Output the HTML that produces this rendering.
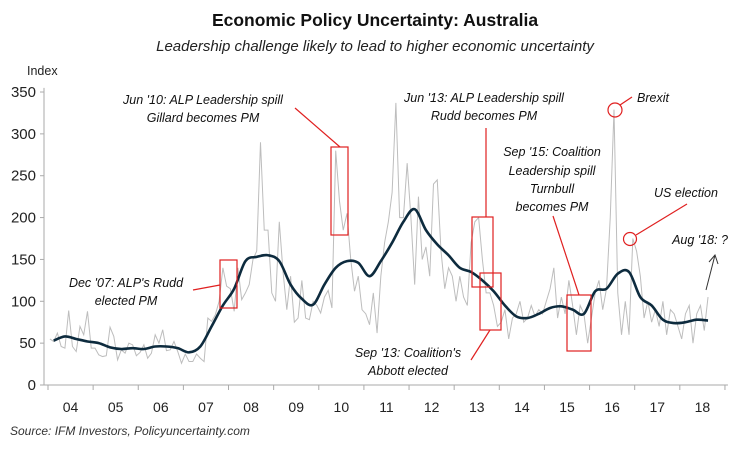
<!DOCTYPE html>
<html><head><meta charset="utf-8"><style>
body{margin:0;background:#fff;font-family:"Liberation Sans",sans-serif}
svg text{font-family:"Liberation Sans",sans-serif}
.ann{font-style:italic;font-size:12.5px;fill:#111}
</style></head><body>
<svg id="c" width="750" height="450" viewBox="0 0 750 450">
<text x="375" y="26" text-anchor="middle" font-size="17.5" font-weight="bold" fill="#111">Economic Policy Uncertainty: Australia</text>
<text x="375" y="51" text-anchor="middle" font-size="15" font-style="italic" fill="#222">Leadership challenge likely to lead to higher economic uncertainty</text>
<text x="27" y="75" font-size="12.5" fill="#222">Index</text>
<g id="axes"></g>
<g id="series"></g>
<g fill="none" stroke="#e02020" stroke-width="1.2">
<rect x="220" y="260" width="17" height="48"/>
<rect x="331" y="147" width="17" height="88"/>
<rect x="472" y="217" width="21" height="70"/>
<rect x="480" y="273" width="21" height="57"/>
<rect x="567" y="295" width="24" height="56"/>
<circle cx="615" cy="110" r="7"/>
<circle cx="630" cy="239" r="6.5"/>
<line x1="193" y1="290" x2="220" y2="285"/>
<line x1="295" y1="108" x2="340" y2="147"/>
<line x1="486" y1="128" x2="486" y2="217"/>
<line x1="471" y1="360" x2="490" y2="330"/>
<line x1="553" y1="216" x2="579" y2="295"/>
<line x1="620" y1="105" x2="632" y2="97"/>
<line x1="636" y1="235" x2="687" y2="204"/>
</g>
<g stroke="#333" stroke-width="1" fill="none">
<line x1="706" y1="290" x2="715" y2="255"/><polyline points="709,262 715,255 718,264"/>
</g>
<g class="ann">
<text class="ann" x="126" y="287" text-anchor="middle">Dec '07: ALP's Rudd</text>
<text class="ann" x="126" y="305" text-anchor="middle">elected PM</text>
<text class="ann" x="203" y="104" text-anchor="middle">Jun '10: ALP Leadership spill</text>
<text class="ann" x="203" y="122" text-anchor="middle">Gillard becomes PM</text>
<text class="ann" x="484" y="102" text-anchor="middle">Jun '13: ALP Leadership spill</text>
<text class="ann" x="484" y="120" text-anchor="middle">Rudd becomes PM</text>
<text class="ann" x="552" y="156" text-anchor="middle">Sep '15: Coalition</text>
<text class="ann" x="552" y="175" text-anchor="middle">Leadership spill</text>
<text class="ann" x="552" y="193" text-anchor="middle">Turnbull</text>
<text class="ann" x="552" y="211" text-anchor="middle">becomes PM</text>
<text class="ann" x="408" y="357" text-anchor="middle">Sep '13: Coalition's</text>
<text class="ann" x="408" y="375" text-anchor="middle">Abbott elected</text>
<text class="ann" x="637" y="102">Brexit</text>
<text class="ann" x="686" y="197" text-anchor="middle">US election</text>
<text class="ann" x="728" y="244" text-anchor="end">Aug '18: ?</text>
</g>
<text x="10" y="435" font-size="12" font-style="italic" fill="#333">Source: IFM Investors, Policyuncertainty.com</text>
</svg>
<script>
const years=["04","05","06","07","08","09","10","11","12","13","14","15","16","17","18"];
const yTicks=[0,50,100,150,200,250,300,350];
const rawIndex=[
55,52,62,46,44,89,46,40,70,60,88,44,
44,36,34,35,69,58,30,42,38,50,48,35,
39,48,32,38,60,50,66,41,42,52,40,26,
37,28,28,37,32,28,80,76,84,100,140,118,
115,88,140,102,110,120,150,160,290,185,185,110,
100,195,135,90,130,75,80,125,80,78,100,95,
86,105,113,92,280,220,185,205,150,112,130,90,
85,72,110,62,130,170,195,230,337,200,200,265,
200,120,225,150,165,130,240,245,160,115,140,130,
100,130,105,95,170,195,200,150,110,110,95,70,
75,90,55,80,85,100,75,80,95,82,90,85,
100,115,140,80,105,85,125,95,60,95,85,50,
80,110,125,90,115,200,329,110,60,100,60,175,
160,130,80,100,75,90,70,100,60,90,85,70,
55,85,95,50,85,95,65,105];
const smoothIndex=[
53,58,55,52, 50,45,43,44, 43,46,46,44, 39,46,70,95,
115,148,153,155, 148,120,103,96, 120,140,148,146, 130,148,170,195,
210,185,168,155, 140,135,125,112, 95,82,80,85, 92,94,90,85,
112,115,133,135, 105,95,78,74, 75,78,77];
const NS="http://www.w3.org/2000/svg";
const x0=48,yrW=45.13,yBase=385,ySc=0.8371;
const X=t=>x0+t*yrW;
const Y=v=>yBase-v*ySc;
function mk(tag,attrs,parent){const e=document.createElementNS(NS,tag);for(const k in attrs)e.setAttribute(k,attrs[k]);parent.appendChild(e);return e;}
const axes=document.getElementById('axes'),ser=document.getElementById('series');
const ya=mk('line',{x1:44,y1:Y(355),x2:44,y2:yBase,stroke:'#aaa'},axes);


const xa=mk('line',{x1:44,y1:yBase,x2:X(15)+3,y2:yBase,stroke:'#aaa'},axes);


yTicks.forEach(v=>{
 mk('line',{x1:40,y1:Y(v),x2:44,y2:Y(v),stroke:'#aaa'},axes);
 const t=mk('text',{x:36,y:Y(v)+5,'text-anchor':'end','font-size':15,fill:'#222'},axes);
 t.textContent=v;
 
 
});
for(let i=0;i<=years.length;i++){
 mk('line',{x1:X(i),y1:yBase,x2:X(i),y2:yBase+5,stroke:'#aaa'},axes);
 if(i<years.length){
  const t=mk('text',{x:X(i+0.5),y:yBase+27,'text-anchor':'middle','font-size':14,fill:'#222'},axes);
  t.textContent=years[i];
  
  
 }
}
const rp=rawIndex.map((v,i)=>[X((i+0.5)/12),Y(v)]);
const raw=mk('polyline',{points:rp.map(p=>p.join(',')).join(' '),fill:'none',stroke:'#bdbdbd','stroke-width':1},ser);


const sp=smoothIndex.map((v,i)=>[X(i*0.25+0.125),Y(v)]);
let d='M'+sp[0][0]+','+sp[0][1];
for(let i=0;i<sp.length-1;i++){
 const p0=sp[Math.max(i-1,0)],p1=sp[i],p2=sp[i+1],p3=sp[Math.min(i+2,sp.length-1)];
 d+=' C'+(p1[0]+(p2[0]-p0[0])/6)+','+(p1[1]+(p2[1]-p0[1])/6)+' '+(p2[0]-(p3[0]-p1[0])/6)+','+(p2[1]-(p3[1]-p1[1])/6)+' '+p2[0]+','+p2[1];
}
const sm=mk('path',{d:d,fill:'none',stroke:'#0d2b3e','stroke-width':2.6},ser);


</script>
</body></html>
